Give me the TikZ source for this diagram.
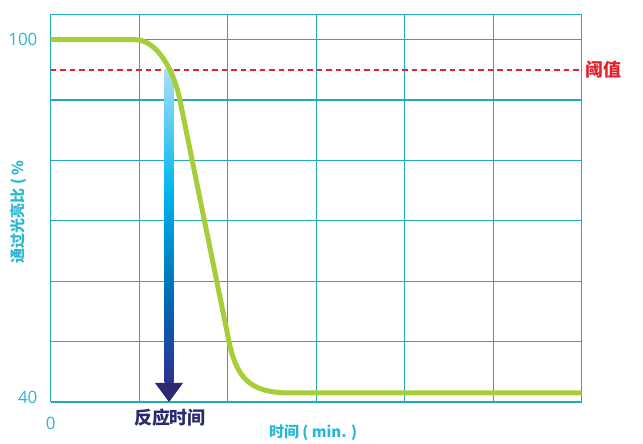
\documentclass[tikz,border=0pt]{standalone}
\usepackage{fontspec}
\setmainfont{Open Sans}
\newfontfamily\cjk{Noto Sans CJK SC}
\usetikzlibrary{positioning}
\definecolor{gridcyan}{HTML}{20AABF}
\definecolor{labelcyan}{HTML}{2AB6D4}
\definecolor{curvegreen}{HTML}{A6CE39}
\definecolor{threshred}{HTML}{E02430}
\definecolor{threshtext}{HTML}{E5202B}
\definecolor{arrownavy}{HTML}{2B2A70}
\definecolor{arrowdeep}{HTML}{2E3192}
\definecolor{arrowblue}{HTML}{0068B3}
\definecolor{arrowcyan}{HTML}{00B8EE}
\definecolor{arrowlight}{HTML}{A9DEF6}
\pgfdeclareverticalshading{arrowshade}{100bp}{color(0bp)=(arrowdeep); color(25bp)=(arrowdeep);
 color(38bp)=(arrowblue); color(56bp)=(arrowcyan); color(75bp)=(arrowlight); color(100bp)=(arrowlight)}
\tikzset{gridline/.style={draw=gridcyan, line width=1.1pt},
 threshline/.style={draw=threshred, line width=1.6pt, dash pattern=on 5.5pt off 4pt},
 curve/.style={draw=curvegreen, line width=5pt},
 numlabel/.style={text=labelcyan, font=\fontsize{17}{17}\selectfont},
 axislabel/.style={text=labelcyan, font=\cjk\bfseries\fontsize{15}{15}\selectfont},
 rtlabel/.style={text=arrownavy, font=\cjk\bfseries\fontsize{18}{18}\selectfont},
 thlabel/.style={text=threshtext, font=\cjk\bfseries\fontsize{18}{18}\selectfont},
 }

\begin{document}
\begin{tikzpicture}[x=88.5pt,y=60.4pt]
        \useasboundingbox (-0.573,-0.679) rectangle (6.693,6.656);
        % grid
        \foreach \i in {0,...,6}
            \draw[gridline] (\i,0) -- (\i,6.42);
        \foreach \j in {0,...,6}
            \draw[gridline] (0,\j) -- (6,\j);
        \draw[gridline] (0,6.42) -- (6,6.42);
        % threshold
        \coordinate (thw) at (0,5.5);
        \coordinate (the) at (6,5.5);
        \draw[threshline] (thw) -- (the);
        \node[thlabel, right=0pt of the] (thtext) {阈值};
        % reaction time arrow
        \coordinate (rttop) at (1.337,5.5);
        \coordinate (rttip) at (1.337,0);
        \shade[shading=arrowshade] ([xshift=-4.5pt]rttop) rectangle ([xshift=4.5pt,yshift=19.5pt]rttip);
        \fill[arrownavy] ([xshift=-14pt,yshift=19pt]rttip) -- ([xshift=14pt,yshift=19pt]rttip) -- (rttip) -- cycle;
        \node[rtlabel] (rttext) at (1.348,-0.265) {反应时间};
        % transmittance curve
        \draw[curve] (0,6) -- (0.95,6) .. controls (1.2,6) and (1.39,5.5) .. (1.46,5.0)
            -- (2.015,1.0) .. controls (2.1,0.4) and (2.25,0.15) .. (2.7,0.15) -- (6,0.15);
        % labels
        \node[numlabel, anchor=east] (ymax) at (-0.11,6) {100};
        \node[numlabel, anchor=east] (ymin) at (-0.11,0.07) {40};
        \node[numlabel] (xmin) at (0,-0.35) {0};
        \node[axislabel] (xlabel) at (2.965,-0.513) {时间 ( min. )};
        \node[axislabel, rotate=90] (ylabel) at (-0.369,3.146) {通过光亮比 ( \%};
    \end{tikzpicture}
\end{document}
